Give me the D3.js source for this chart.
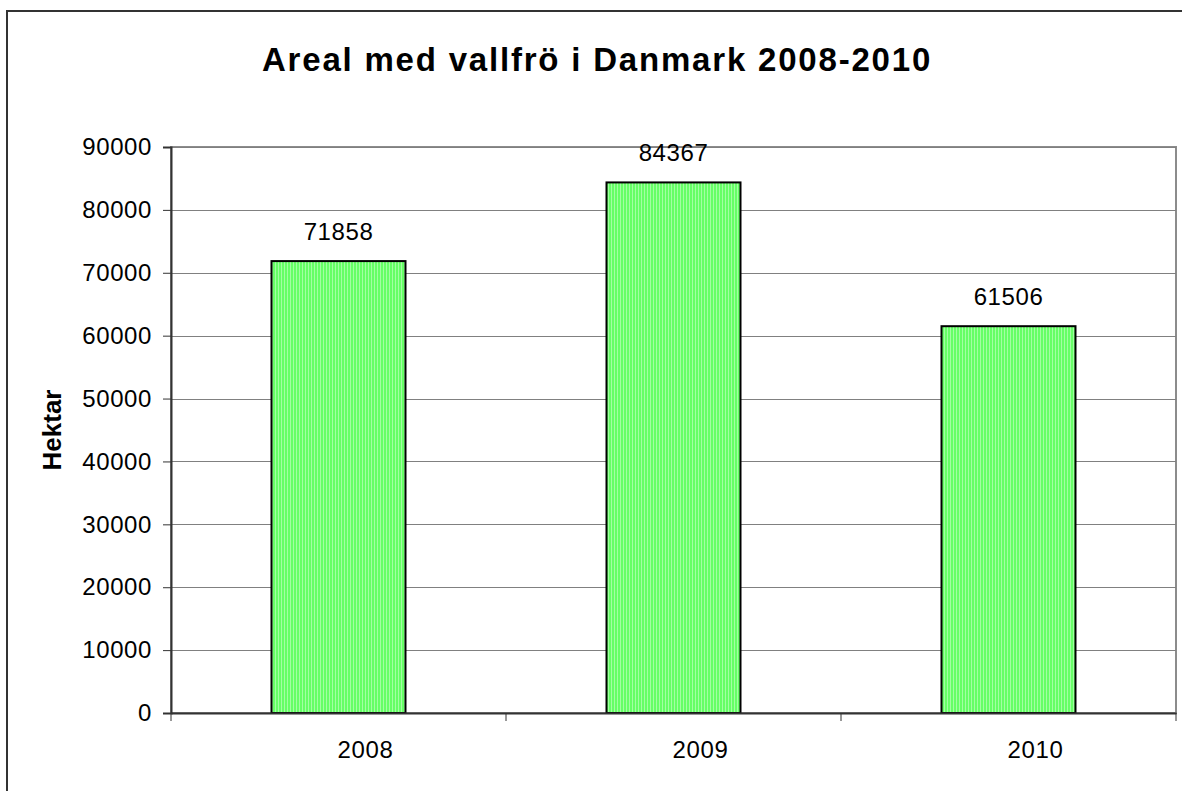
<!DOCTYPE html>
<html>
<head>
<meta charset="utf-8">
<script src="https://cdn.jsdelivr.net/npm/d3@7"></script>
<style>
  body { margin: 0; background: #fff; }
  svg text { font-family: Arial, "Liberation Sans", sans-serif; }
</style>
</head>
<body>
<div id="chart"></div>
<script>
// data
var years = ["2008", "2009", "2010"];
var hektar = [71858, 84367, 61506];
var yTicks = [0, 10000, 20000, 30000, 40000, 50000, 60000, 70000, 80000, 90000];

var width = 1182, height = 791;
var plot = {left: 171, top: 147, right: 1176, bottom: 713};
var fontFam = "Arial, 'Liberation Sans', sans-serif";

var svg = d3.select("#chart").append("svg")
    .attr("width", width)
    .attr("height", height);

// stripe fill for the bars
var defs = svg.append("defs");
var pat = defs.append("pattern")
    .attr("id", "stripes")
    .attr("patternUnits", "userSpaceOnUse")
    .attr("width", 3)
    .attr("height", 10);
pat.append("rect").attr("width", 3).attr("height", 10).attr("fill", "#66ff66");
pat.append("rect").attr("x", 2).attr("width", 1).attr("height", 10).attr("fill", "#a3ffa3");

// outer chart frame (runs off the right / bottom edge)
svg.append("rect")
    .attr("x", 7).attr("y", 11)
    .attr("width", width + 20).attr("height", height + 20)
    .attr("fill", "none")
    .attr("stroke", "#333")
    .attr("stroke-width", 2);

// title
svg.append("text")
    .attr("x", 597).attr("y", 71)
    .attr("text-anchor", "middle")
    .attr("font-size", 33)
    .attr("font-weight", "bold")
    .attr("letter-spacing", 1.8)
    .text("Areal med vallfrö i Danmark 2008-2010");

// scales
var xScale = d3.scaleBand()
    .domain(years)
    .range([plot.left, plot.right])
    .paddingInner(0)
    .paddingOuter(0);

var yScale = d3.scaleLinear()
    .domain([0, 90000])
    .range([plot.bottom, plot.top]);

// plot area border (right edge gray)
svg.append("rect")
    .attr("x", plot.left).attr("y", plot.top)
    .attr("width", plot.right - plot.left)
    .attr("height", plot.bottom - plot.top)
    .attr("fill", "#fff")
    .attr("stroke", "#8c8c8c")
    .attr("stroke-width", 2);

// gridlines
svg.append("g")
    .selectAll("line")
    .data(yTicks.slice(1))
    .enter()
    .append("line")
    .attr("x1", plot.left).attr("x2", plot.right)
    .attr("y1", function (d) { return Math.round(yScale(d)) + 0.5; })
    .attr("y2", function (d) { return Math.round(yScale(d)) + 0.5; })
    .attr("stroke", "#808080")
    .attr("stroke-width", 1);

// bars
var barW = xScale.bandwidth() * 0.4;
svg.selectAll(".bar")
    .data(hektar)
    .enter()
    .append("rect")
    .attr("class", "bar")
    .attr("x", function (d, i) { return xScale(years[i]) + (xScale.bandwidth() - barW) / 2; })
    .attr("y", function (d) { return yScale(d); })
    .attr("width", barW)
    .attr("height", function (d) { return plot.bottom - yScale(d); })
    .attr("fill", "url(#stripes)")
    .attr("stroke", "#000")
    .attr("stroke-width", 2);

// value labels
svg.selectAll(".val")
    .data(hektar)
    .enter()
    .append("text")
    .attr("class", "val")
    .attr("x", function (d, i) { return xScale(years[i]) + xScale.bandwidth() / 2; })
    .attr("y", function (d) { return yScale(d) - 21; })
    .attr("text-anchor", "middle")
    .attr("font-size", 24)
    .attr("letter-spacing", 0.6)
    .text(function (d) { return d; });

// y axis
var yAxis = d3.axisLeft(yScale)
    .tickValues(yTicks)
    .tickSize(8)
    .tickPadding(11)
    .tickFormat(function (d) { return d; });

var gy = svg.append("g")
    .attr("transform", "translate(" + plot.left + ",0)")
    .call(yAxis);
gy.select(".domain").attr("stroke", "#333").attr("stroke-width", 2);
gy.selectAll(".tick line").attr("stroke", "#333");
gy.selectAll(".tick text")
    .attr("font-size", 24)
    .attr("letter-spacing", 0.6)
    .attr("fill", "#000")
    .style("font-family", fontFam);

// x axis
var xAxis = d3.axisBottom(xScale)
    .tickSize(0)
    .tickPadding(28);

var gx = svg.append("g")
    .attr("transform", "translate(0," + plot.bottom + ")")
    .call(xAxis);
gx.select(".domain").attr("stroke", "#333").attr("stroke-width", 2);
gx.selectAll(".tick text")
    .attr("font-size", 24)
    .attr("letter-spacing", 0.6)
    .attr("dx", 27)  // labels sit a bit right of the bar centres in the original
    .attr("fill", "#000")
    .style("font-family", fontFam);

// category boundary ticks
var bounds = years.map(function (y) { return xScale(y); }).concat([plot.right]);
svg.append("g")
    .selectAll("line")
    .data(bounds)
    .enter()
    .append("line")
    .attr("x1", function (d) { return d; })
    .attr("x2", function (d) { return d; })
    .attr("y1", plot.bottom)
    .attr("y2", plot.bottom + 8)
    .attr("stroke", "#333")
    .attr("stroke-width", 1);

// y label
svg.append("text")
    .attr("transform", "translate(61," + ((plot.top + plot.bottom) / 2) + ") rotate(-90)")
    .attr("text-anchor", "middle")
    .attr("font-size", 26)
    .attr("font-weight", "bold")
    .text("Hektar");
</script>
</body>
</html>
